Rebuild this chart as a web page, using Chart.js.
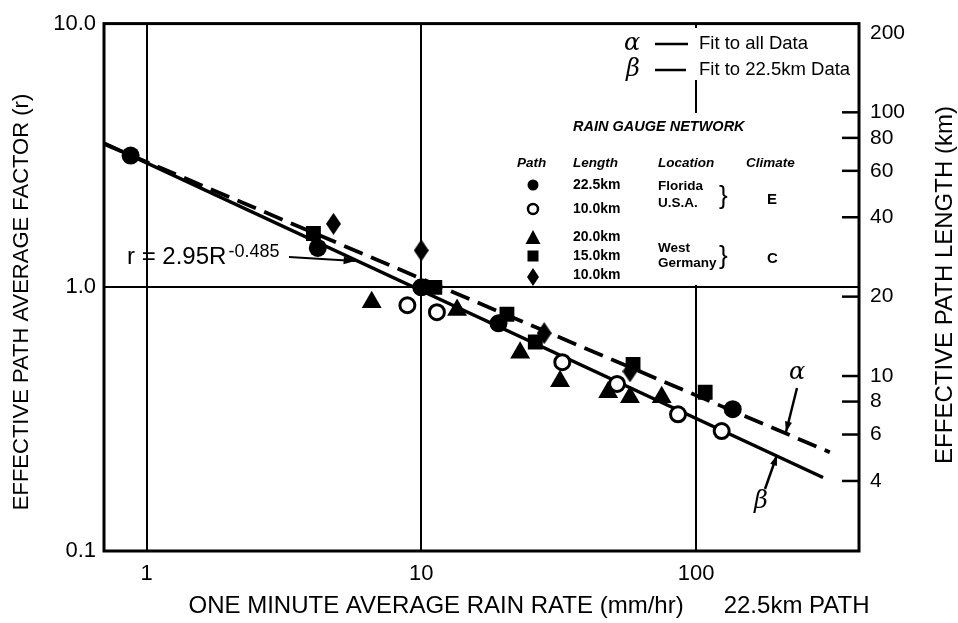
<!DOCTYPE html>
<html><head><meta charset="utf-8">
<script src="https://cdn.jsdelivr.net/npm/chart.js@4.4.0/dist/chart.umd.min.js"></script>
<style>html,body{margin:0;padding:0;background:#fff;overflow:hidden}</style>
</head><body><canvas id="c" width="958" height="623"></canvas>
<script>
// ---- axis ticks ----
const xTicks = [1, 10, 100];
const yTicks = [0.1, 1, 10];
const yTickLabels = ['0.1', '1.0', '10.0'];
const kmTicks = [4, 6, 8, 10, 20, 40, 60, 80, 100, 200];

// ---- fitted lines (endpoints) ----
const betaR = [0.7, 290];     const betaRv = [3.52, 0.19];   // fit to 22.5 km data (solid)
const alphaR = [0.7, 307];    const alphaRv = [3.50, 0.237]; // fit to all data (dashed)

// ---- measured points ----
const fl22R = [0.875, 4.2, 10, 19.1, 136];
const fl22r = [3.16, 1.41, 1.0, 0.73, 0.345];
const fl10R = [8.9, 11.4, 32.6, 51.6, 86, 124];
const fl10r = [0.855, 0.805, 0.52, 0.43, 0.33, 0.285];
const wg20R = [6.6, 13.5, 22.9, 32, 47.9, 57.5, 75];
const wg20r = [0.878, 0.82, 0.565, 0.44, 0.40, 0.383, 0.383];
const wg15R = [4.05, 11.2, 20.5, 26, 59, 108];
const wg15r = [1.6, 1.0, 0.79, 0.62, 0.51, 0.40];
const wg10R = [4.79, 10, 28, 57.5];
const wg10r = [1.74, 1.38, 0.67, 0.48];

const pts = (xs, ys) => xs.map((x, i) => ({x: x, y: ys[i]}));
const FONT = '"Liberation Sans", Arial, Helvetica, sans-serif';

function diamondImg(w, h) {
  const c = document.createElement('canvas'); c.width = w; c.height = h;
  const g = c.getContext('2d'); g.fillStyle = '#000';
  g.beginPath(); g.moveTo(w/2, 0); g.lineTo(w, h/2); g.lineTo(w/2, h); g.lineTo(0, h/2); g.closePath(); g.fill();
  return c;
}
const dia = diamondImg(15, 22);

function arrow(ctx, x1, y1, x2, y2, head) {
  ctx.beginPath(); ctx.moveTo(x1, y1); ctx.lineTo(x2, y2); ctx.stroke();
  const a = Math.atan2(y2 - y1, x2 - x1);
  ctx.beginPath(); ctx.moveTo(x2, y2);
  ctx.lineTo(x2 - head*Math.cos(a - 0.33), y2 - head*Math.sin(a - 0.33));
  ctx.lineTo(x2 - head*Math.cos(a + 0.33), y2 - head*Math.sin(a + 0.33));
  ctx.closePath(); ctx.fill();
}

const deco = {
  id: 'deco',
  beforeDatasetsDraw(chart) {
    const ctx = chart.ctx; ctx.save(); ctx.fillStyle = '#fff';
    ctx.fillRect(620, 28, 236, 52);
    ctx.fillRect(505, 113, 352, 172);
    ctx.restore();
  },
  afterDatasetsDraw(chart) {
    const ctx = chart.ctx, a = chart.chartArea, y2 = chart.scales.y2;
    ctx.save();
    ctx.strokeStyle = '#000'; ctx.fillStyle = '#000';
    // frame
    ctx.lineWidth = 3; ctx.strokeRect(a.left, a.top, a.right - a.left, a.bottom - a.top);
    // inward ticks of right axis
    ctx.lineWidth = 2.5;
    kmTicks.forEach(v => { const py = y2.getPixelForValue(v); if (v !== 200) { ctx.beginPath(); ctx.moveTo(a.right - 17, py); ctx.lineTo(a.right, py); ctx.stroke(); } });

    // axis titles
    ctx.textAlign = 'center'; ctx.textBaseline = 'middle';
    ctx.font = '24px ' + FONT;
    ctx.fillText('ONE MINUTE AVERAGE RAIN RATE (mm/hr)      22.5km PATH', 529, 606);
    ctx.save(); ctx.translate(22, 302); ctx.rotate(-Math.PI/2); ctx.font = '22px ' + FONT;
    ctx.fillText('EFFECTIVE PATH AVERAGE FACTOR (r)', 0, 0); ctx.restore();
    ctx.save(); ctx.translate(945, 285); ctx.rotate(-Math.PI/2); ctx.font = '24px ' + FONT;
    ctx.fillText('EFFECTIVE PATH LENGTH (km)', 0, 0); ctx.restore();

    // equation
    ctx.textAlign = 'left'; ctx.textBaseline = 'alphabetic';
    ctx.font = '24px ' + FONT;
    ctx.fillText('r = 2.95R', 127, 264);
    const w = ctx.measureText('r = 2.95R').width;
    ctx.font = '18px ' + FONT;
    ctx.fillText('-0.485', 127 + w + 2, 257);
    ctx.lineWidth = 2;
    arrow(ctx, 289, 257, 355, 261, 12);

    // alpha / beta arrows
    ctx.font = 'italic 24px "DejaVu Serif", serif';
    ctx.textAlign = 'center'; ctx.textBaseline = 'middle';
    ctx.fillText('\u03B1', 797, 373);
    ctx.fillText('\u03B2', 761, 502);
    ctx.lineWidth = 2.5;
    arrow(ctx, 797, 388, 786, 432, 11);
    arrow(ctx, 765, 489, 777, 455, 11);

    // fit legend
    ctx.textAlign = 'left';
    ctx.font = 'italic 24px "DejaVu Serif", serif';
    ctx.fillText('\u03B1', 624, 44);
    ctx.fillText('\u03B2', 626, 70);
    ctx.lineWidth = 2.5;
    ctx.beginPath(); ctx.moveTo(655, 44); ctx.lineTo(688, 44); ctx.moveTo(655, 70); ctx.lineTo(686, 70); ctx.stroke();
    ctx.font = '18.5px ' + FONT;
    ctx.fillText('Fit to all Data', 699, 44);
    ctx.fillText('Fit to 22.5km Data', 699, 70);

    // rain gauge table
    ctx.font = 'italic bold 14.5px ' + FONT;
    ctx.fillText('RAIN GAUGE NETWORK', 573, 127);
    ctx.font = 'italic bold 13.5px ' + FONT;
    ctx.fillText('Path', 517, 163); ctx.fillText('Length', 573, 163);
    ctx.fillText('Location', 658, 163); ctx.fillText('Climate', 746, 163);
    ctx.font = 'bold 14px ' + FONT;
    ctx.fillText('22.5km', 573, 185); ctx.fillText('10.0km', 573, 209);
    ctx.fillText('20.0km', 573, 237); ctx.fillText('15.0km', 573, 256); ctx.fillText('10.0km', 573, 275);
    ctx.font = 'bold 13.5px ' + FONT;
    ctx.fillText('Florida', 658, 186); ctx.fillText('U.S.A.', 658, 203);
    ctx.fillText('West', 658, 248); ctx.fillText('Germany', 658, 263);
    ctx.font = 'bold 15px ' + FONT;
    ctx.fillText('E', 767, 200); ctx.fillText('C', 767, 259);
    ctx.font = '26px ' + FONT;
    ctx.fillText('}', 719, 197); ctx.fillText('}', 719, 257);

    // table symbols
    const sx = 533;
    ctx.beginPath(); ctx.arc(sx, 185, 5.5, 0, Math.PI*2); ctx.fill();
    ctx.lineWidth = 2.5; ctx.beginPath(); ctx.arc(sx, 209, 5, 0, Math.PI*2); ctx.stroke();
    ctx.beginPath(); ctx.moveTo(sx, 230); ctx.lineTo(sx + 7.5, 244); ctx.lineTo(sx - 7.5, 244); ctx.closePath(); ctx.fill();
    ctx.fillRect(sx - 5.5, 250.5, 11, 11);
    ctx.drawImage(diamondImg(12, 18), sx - 6, 268);
    ctx.restore();
  }
};

new Chart(document.getElementById('c'), {
  type: 'scatter',
  data: {
    datasets: [
      {label: 'Florida 10.0km', data: pts(fl10R, fl10r), pointStyle: 'circle', pointRadius: 7.5, borderWidth: 3, borderColor: '#000', backgroundColor: '#fff'},
      {label: 'Florida 22.5km', data: pts(fl22R, fl22r), pointStyle: 'circle', pointRadius: 9, borderWidth: 0, backgroundColor: '#000', borderColor: '#000'},
      {label: 'W. Germany 20.0km', data: pts(wg20R, wg20r), pointStyle: 'triangle', pointRadius: 11.5, borderWidth: 0, backgroundColor: '#000', borderColor: '#000'},
      {label: 'W. Germany 15.0km', data: pts(wg15R, wg15r), pointStyle: 'rect', pointRadius: 10.5, borderWidth: 0, backgroundColor: '#000', borderColor: '#000'},
      {label: 'W. Germany 10.0km', data: pts(wg10R, wg10r), pointStyle: dia, pointRadius: 10, backgroundColor: '#000', borderColor: '#000'},
      {label: 'beta', data: pts(betaR, betaRv), showLine: true, pointRadius: 0, borderColor: '#000', borderWidth: 3.5},
      {label: 'alpha', data: pts(alphaR, alphaRv), showLine: true, pointRadius: 0, borderColor: '#000', borderWidth: 3.8, borderDash: [20, 9]}
    ]
  },
  options: {
    responsive: false, animation: false, devicePixelRatio: 1,
    layout: {padding: {top: 20, left: 0, right: 0, bottom: 0}},
    plugins: {legend: {display: false}, tooltip: {enabled: false}},
    scales: {
      x: {
        type: 'logarithmic', position: 'bottom', min: 0.7, max: 392,
        afterBuildTicks: s => { s.ticks = xTicks.map(v => ({value: v})); },
        afterFit: s => { s.height = 72; },
        ticks: {callback: v => String(v), color: '#000', font: {size: 22, family: FONT}, padding: 10, maxRotation: 0, autoSkip: false},
        grid: {color: '#000', lineWidth: 2, drawTicks: false},
        border: {display: false}
      },
      y: {
        type: 'logarithmic', position: 'left', min: 0.1, max: 10,
        afterBuildTicks: s => { s.ticks = yTicks.map(v => ({value: v})); },
        afterFit: s => { s.width = 104; },
        ticks: {callback: v => yTickLabels[yTicks.indexOf(v)], color: '#000', font: {size: 22, family: FONT}, padding: 8, autoSkip: false},
        grid: {color: '#000', lineWidth: 2, drawTicks: false},
        border: {display: false}
      },
      y2: {
        type: 'logarithmic', position: 'right', min: 2.17, max: 217,
        afterBuildTicks: s => { s.ticks = kmTicks.map(v => ({value: v})); },
        afterFit: s => { s.width = 99; },
        ticks: {callback: v => String(v), color: '#000', font: {size: 21, family: FONT}, padding: 11, autoSkip: false},
        grid: {display: false, drawTicks: false},
        border: {display: false}
      }
    }
  },
  plugins: [deco]
});
</script>
</body></html>
